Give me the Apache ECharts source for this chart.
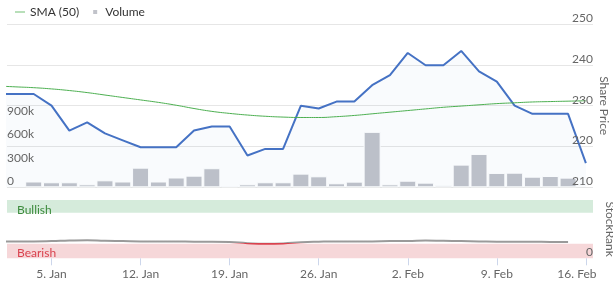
<!DOCTYPE html>
<html>
<head>
<meta charset="utf-8">
<script src="https://cdn.jsdelivr.net/npm/echarts@6/dist/echarts.min.js"></script>
<style>
html,body{margin:0;padding:0;background:#fff;}
#chart{width:613px;height:283px;}
</style>
</head>
<body>
<div id="chart"></div>
<script>
const dates = ['30. Dec','31. Dec','2. Jan',
  '5. Jan','6. Jan','7. Jan','8. Jan','9. Jan',
  '12. Jan','13. Jan','14. Jan','15. Jan','16. Jan',
  '19. Jan','20. Jan','21. Jan','22. Jan','23. Jan',
  '26. Jan','27. Jan','28. Jan','29. Jan','30. Jan',
  '2. Feb','3. Feb','4. Feb','5. Feb','6. Feb',
  '9. Feb','10. Feb','11. Feb','12. Feb','13. Feb',
  '16. Feb'];
const price = [232.85, 232.85, 232.85,
  230.0, 223.9, 225.9, 223.2, 221.5,
  219.8, 219.8, 219.8, 223.9, 224.9,
  224.9, 217.8, 219.4, 219.4, 230.0,
  229.3, 231.0, 231.0, 235.0, 237.5,
  242.9, 239.9, 239.9, 243.4, 238.4,
  235.9, 230.0, 228.0, 228.0, 228.0,
  215.9];
const sma50 = [234.8, 234.6, 234.4,
  234.1, 233.7, 233.2, 232.6, 232.0,
  231.4, 230.8, 230.1, 229.3, 228.6,
  228.1, 227.7, 227.4, 227.2, 227.1,
  227.1, 227.3, 227.6, 228.0, 228.4,
  228.8, 229.2, 229.6, 229.9, 230.2,
  230.5, 230.7, 230.9, 231.0, 231.1,
  231.2];
const volume = [null, null, 74000,
  64000, 64000, 38000, 89000, 74000,
  250000, 74000, 125000, 148000, 243000,
  20000, 38000, 64000, 64000, 174000,
  140000, 51000, 72000, 706000, 38000,
  84000, 59000, 26000, 289000, 425000,
  183000, 186000, 135000, 144000, 123000,
  null];
const stockRank = [29, 29, 29,
  29.5, 30.5, 31, 30, 29.5,
  29, 29, 29, 28.5, 28.5,
  28, 26, 25, 25.5, 27.5,
  28.5, 29, 29, 29, 29.5,
  29.5, 30.5, 30, 29.5, 29,
  28.5, 28.5, 28.5, 28, 28];
const xTickLabels = ['5. Jan','12. Jan','19. Jan','26. Jan','2. Feb','9. Feb','16. Feb'];
const priceTicks = [210, 220, 230, 240, 250];
const volumeTicks = [0, 300000, 600000, 900000];
const rankTicks = [0];
const bands = {bullish: [78, 100], bearish: [0, 25]};
const bearishThreshold = 27;

const tickIdx = xTickLabels.map(l => dates.indexOf(l));
const lastTick = tickIdx[tickIdx.length - 1];
const pairs = arr => arr.map((v, i) => [i, v]);
const font = 'Lato, "DejaVu Sans", sans-serif';
const pMin = priceTicks[0], pMax = priceTicks[priceTicks.length - 1];

const chart = echarts.init(document.getElementById('chart'), null, {renderer: 'canvas'});
const option = {
  animation: false,
  backgroundColor: '#fff',
  textStyle: {fontFamily: font},
  legend: {
    left: 10, top: 1, itemWidth: 10, itemHeight: 6, itemGap: 10,
    textStyle: {color: '#333', fontSize: 12, fontFamily: font},
    data: [{name: 'SMA (50)', icon: 'path://M0,0 M0,2.6 L10,2.6 L10,3.4 L0,3.4 Z M10,6'},
           {name: 'Volume', icon: 'path://M0,0 M2,0 L8,0 L8,6 L2,6 Z M10,6'}]
  },
  grid: [
    {left: 7, right: 20, top: 24, height: 163.3, containLabel: false, outerBoundsMode: 'none'},
    {left: 7, right: 20, top: 200, height: 58.3, containLabel: false, outerBoundsMode: 'none'}
  ],
  xAxis: [
    {type: 'value', gridIndex: 0, min: 0.5, max: 33.4, show: false},
    {type: 'value', gridIndex: 1, min: 0.5, max: 33.4, z: 10,
     axisLine: {show: false}, splitLine: {show: false},
     axisTick: {show: true, customValues: tickIdx, length: 7, lineStyle: {color: '#ccd6eb'}},
     axisLabel: {customValues: tickIdx, margin: 10, color: '#666', fontSize: 12, fontFamily: font,
       formatter: v => {
         const i = Math.round(v);
         return i === lastTick ? '{last|' + dates[i] + '}' : dates[i];
       },
       rich: {last: {padding: [0, 18, 0, 0], color: '#666', fontSize: 12, fontFamily: font}}}}
  ],
  yAxis: [
    {type: 'value', gridIndex: 0, position: 'right', min: pMin, max: pMax, interval: 10, z: 0,
     axisLine: {show: false}, axisTick: {show: false}, axisLabel: {show: false},
     splitLine: {show: true, lineStyle: {color: '#e6e6e6'}},
     name: 'Share Price', nameLocation: 'middle', nameRotate: -90, nameGap: 5,
     nameTextStyle: {color: '#666', fontSize: 12, fontFamily: font}},
    {type: 'value', gridIndex: 0, position: 'left', min: 0, max: 2080000, z: 10,
     axisLine: {show: false}, axisTick: {show: false}, splitLine: {show: false},
     axisLabel: {inside: true, margin: 0, customValues: volumeTicks, verticalAlign: 'bottom',
       formatter: v => v === 0 ? '0' : (v / 1000) + 'k', color: '#666', fontSize: 12, fontFamily: font}},
    {type: 'value', gridIndex: 1, position: 'right', min: 0, max: 100, z: 10,
     axisLine: {show: false}, axisTick: {show: false}, splitLine: {show: false},
     axisLabel: {inside: true, margin: 0, customValues: rankTicks, verticalAlign: 'bottom', color: '#666', fontSize: 12, fontFamily: font},
     name: 'StockRank', nameLocation: 'middle', nameRotate: -90, nameGap: 5,
     nameTextStyle: {color: '#666', fontSize: 12, fontFamily: font}},
    {type: 'value', gridIndex: 0, position: 'right', min: pMin, max: pMax, interval: 10, z: 10,
     axisLine: {show: false}, axisTick: {show: false}, splitLine: {show: false},
     axisLabel: {inside: true, margin: 0, verticalAlign: 'bottom', color: '#666', fontSize: 12, fontFamily: font}}
  ],
  visualMap: {
    show: false, seriesIndex: 3, dimension: 1, type: 'piecewise',
    pieces: [{min: 0, max: bearishThreshold, color: '#d9434f'},
             {min: bearishThreshold, max: 100, color: '#9a9a9a'}],
    outOfRange: {color: '#9a9a9a'}
  },
  series: [
    {name: 'Price', type: 'line', xAxisIndex: 0, yAxisIndex: 0, data: pairs(price),
     symbol: 'none', clip: true, lineStyle: {color: '#4572c4', width: 2}, itemStyle: {color: '#4572c4'},
     areaStyle: {color: 'rgba(69,114,196,0.045)'}, z: 3},
    {name: 'Volume', type: 'bar', xAxisIndex: 0, yAxisIndex: 1, data: pairs(volume),
     barWidth: 17, itemStyle: {color: '#c1c3ca', borderColor: '#fff', borderWidth: 1}, z: 2},
    {name: 'SMA (50)', type: 'line', xAxisIndex: 0, yAxisIndex: 0, data: pairs(sma50),
     symbol: 'none', smooth: true, clip: true, lineStyle: {color: '#4caf50', width: 1}, itemStyle: {color: '#4caf50'}, z: 4},
    {name: 'StockRank', type: 'line', xAxisIndex: 1, yAxisIndex: 2, data: pairs(stockRank),
     symbol: 'none', smooth: true, clip: true, lineStyle: {width: 2}, z: 5,
     markArea: {
       silent: true,
       label: {position: 'insideTopLeft', distance: 0, fontSize: 12, fontFamily: font},
       data: [
         [{name: 'Bullish', yAxis: bands.bullish[0], itemStyle: {color: '#d5ebdb'},
           label: {color: '#3d8b3d', offset: [10, 4]}}, {yAxis: bands.bullish[1]}],
         [{name: 'Bearish', yAxis: bands.bearish[0], itemStyle: {color: '#f6d7d9'},
           label: {color: '#d9434f', offset: [10, 3]}}, {yAxis: bands.bearish[1]}]
       ]
     }}
  ]
};
try {
  chart.setOption(option);
} catch (e) {
  console.error(e);
}
</script>
</body>
</html>
